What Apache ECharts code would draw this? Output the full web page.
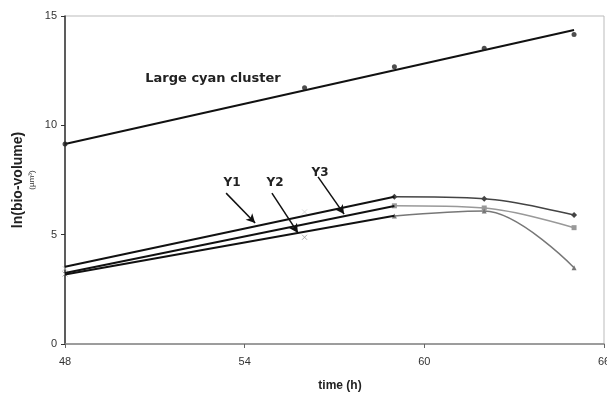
<!DOCTYPE html>
<html>
<head>
<meta charset="utf-8">
<script src="https://cdn.jsdelivr.net/npm/echarts@6/dist/echarts.min.js"></script>
<style>
  html, body { margin: 0; padding: 0; background: #fff; }
  #main { width: 607px; height: 393px; }
</style>
</head>
<body>
<div id="main"></div>
<script>
// x axis ticks (hours)
const xTicks = [48, 54, 60, 66]
const yTicks = [0, 5, 10, 15]

// large cyan cluster: observations and fitted line
const clusterPoints = [[48, 9.15], [56, 11.72], [59, 12.68], [62, 13.53], [65, 14.15]]
const clusterFit = [[48, 9.15], [65, 14.36]]

// fitted lines 48h - 59h for the three Y groups
const y1Fit = [[48, 3.53], [59, 6.73]]
const y2Fit = [[48, 3.18], [59, 5.87]]
const y3Fit = [[48, 3.25], [59, 6.31]]

// observed points after 59h
const y1Obs = [[59, 6.73], [62, 6.64], [65, 5.90]]
const y2Obs = [[59, 5.85], [62, 6.08], [65, 3.49]]
const y3Obs = [[59, 6.32], [62, 6.22], [65, 5.32]]

// earlier observations
const y1Early = [[48, 3.45], [56, 6.04]]
const y2Early = [[48, 3.2], [56, 4.88]]

const chart = echarts.init(document.getElementById('main'))

function fitLine(data) {
  return {
    type: 'line',
    data: data,
    symbol: 'none',
    lineStyle: { color: '#111', width: 2 },
    z: 3
  }
}

function obsLine(data, color, symbol, size) {
  return {
    type: 'line',
    data: data,
    smooth: 0.35,
    symbol: symbol,
    symbolSize: size,
    itemStyle: { color: color },
    lineStyle: { color: color, width: 1.5 },
    z: 2
  }
}

const option = {
  animation: false,
  grid: {
    left: 65, right: 3, top: 16, bottom: 49,
    outerBoundsMode: 'none',
    containLabel: false,
    show: true, borderColor: '#bbb', borderWidth: 1
  },
  xAxis: {
    type: 'value',
    min: 48, max: 66, interval: 6,
    axisLine: { lineStyle: { color: '#888', width: 1.5 } },
    axisTick: { show: true, length: 4, lineStyle: { color: '#666' } },
    axisLabel: {
      color: '#333', fontSize: 11, fontFamily: 'Liberation Sans', margin: 12,
      formatter: v => xTicks.includes(v) ? String(v) : ''
    },
    splitLine: { show: false }
  },
  yAxis: {
    type: 'value',
    min: 0, max: 15, interval: 5,
    axisLine: { show: true, lineStyle: { color: '#333', width: 1.5 } },
    axisTick: { show: true, length: 4, lineStyle: { color: '#333' } },
    axisLabel: {
      color: '#333', fontSize: 11, fontFamily: 'Liberation Sans', margin: 8,
      formatter: v => yTicks.includes(v) ? String(v) : ''
    },
    splitLine: { show: false }
  },
  series: [
    {
      type: 'scatter',
      data: clusterPoints,
      symbol: 'circle',
      symbolSize: 5,
      itemStyle: { color: '#222' },
      z: 4
    },
    fitLine(clusterFit),
    obsLine(y1Obs, '#444', 'diamond', 6),
    obsLine(y3Obs, '#999', 'rect', 5),
    obsLine(y2Obs, '#777', 'triangle', 5),
    {
      type: 'scatter',
      data: y1Early,
      symbol: 'path://M0,0L10,10M10,0L0,10',
      symbolSize: 5,
      itemStyle: { color: '#ccc', borderColor: '#ccc', borderWidth: 1 }
    },
    {
      type: 'scatter',
      data: y2Early,
      symbol: 'path://M0,0L10,10M10,0L0,10',
      symbolSize: 5,
      itemStyle: { color: '#999', borderColor: '#999', borderWidth: 1 }
    },
    fitLine(y1Fit),
    fitLine(y3Fit),
    Object.assign(fitLine(y2Fit), {
      markLine: {
        silent: true,
        symbol: ['none', 'arrow'],
        symbolSize: [7, 9],
        label: { show: false },
        lineStyle: { color: '#111', width: 1.5, type: 'solid' },
        data: [
          [{ coord: [53.38, 6.90] }, { coord: [54.35, 5.53] }],
          [{ coord: [54.91, 6.90] }, { coord: [55.78, 5.08] }],
          [{ coord: [56.45, 7.64] }, { coord: [57.32, 5.94] }]
        ]
      }
    })
  ],
  graphic: [
    {
      type: 'text', x: 213, y: 79,
      style: { text: 'Large cyan cluster', font: 'bold 13px "DejaVu Sans"', fill: '#222', align: 'center', verticalAlign: 'middle' }
    },
    {
      type: 'text', x: 232, y: 183,
      style: { text: 'Y1', font: 'bold 12px "DejaVu Sans"', fill: '#222', align: 'center', verticalAlign: 'middle' }
    },
    {
      type: 'text', x: 275, y: 183,
      style: { text: 'Y2', font: 'bold 12px "DejaVu Sans"', fill: '#222', align: 'center', verticalAlign: 'middle' }
    },
    {
      type: 'text', x: 320, y: 173,
      style: { text: 'Y3', font: 'bold 12px "DejaVu Sans"', fill: '#222', align: 'center', verticalAlign: 'middle' }
    },
    {
      type: 'text', x: 18, y: 180, rotation: Math.PI / 2,
      style: { text: 'ln(bio-volume)', font: 'bold 14px "Liberation Sans"', fill: '#222', align: 'center', verticalAlign: 'middle' }
    },
    {
      type: 'text', x: 32, y: 180, rotation: Math.PI / 2,
      style: { text: '(µm³)', font: '8px "Liberation Sans"', fill: '#333', align: 'center', verticalAlign: 'middle' }
    },
    {
      type: 'text', x: 340, y: 386,
      style: { text: 'time (h)', font: 'bold 12px "Liberation Sans"', fill: '#222', align: 'center', verticalAlign: 'middle' }
    }
  ]
}

option && chart.setOption(option)
</script>
</body>
</html>
